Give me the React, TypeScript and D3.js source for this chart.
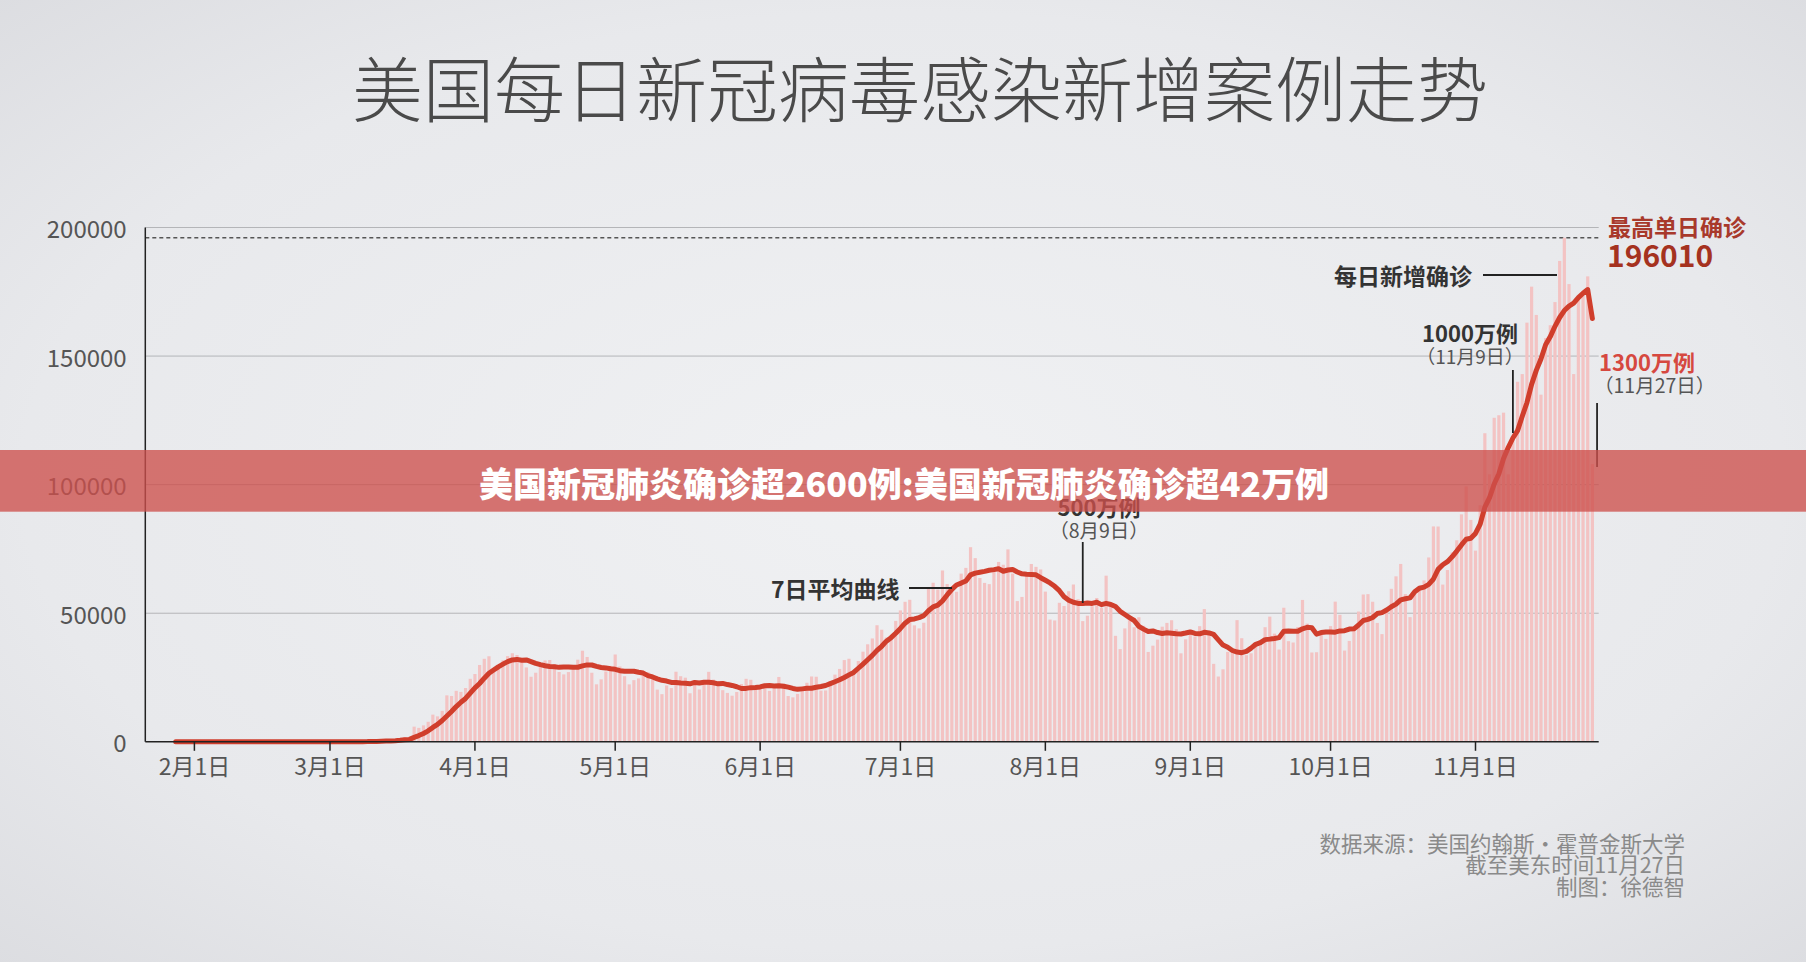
import React, { useRef, useEffect } from 'react';
import * as d3 from 'd3';

// daily new confirmed cases (US), starting 2020-01-22
const startDate = '2020-01-22';
const janCases = [1, 0, 1, 0, 3, 0, 0, 0, 0, 2];
const febCases = [1, 0, 3, 0, 0, 0, 0, 0, 0, 0, 1, 0, 1, 0, 0, 0, 0, 0, 0, 0, 2, 0, 0, 36, 0, 6, 1, 2, 8];
const marCases = [6, 23, 20, 31, 68, 45, 140, 116, 65, 376, 322, 382, 516, 548, 772, 1133, 1789, 1362, 5894, 5423, 6389, 7787, 10571, 9893, 12038, 18058, 17821, 19821, 19408, 20921, 24501];
const aprCases = [26365, 29874, 32284, 33267, 28219, 29595, 31709, 33331, 34437, 33752, 31004, 28917, 25306, 26857, 29664, 31627, 31811, 30211, 27148, 26217, 27113, 28576, 31924, 35419, 32986, 26859, 22350, 24289, 27327, 29515];
const mayCases = [33955, 29288, 25501, 22335, 23976, 24645, 27368, 27101, 25558, 20299, 18527, 21919, 20895, 27246, 25508, 24942, 18880, 22181, 20348, 22950, 27208, 24192, 22049, 20078, 19009, 17921, 19394, 22452, 24493, 24116, 20373];
const junCases = [20697, 21109, 19795, 21477, 25213, 22597, 17811, 17283, 18626, 21043, 22965, 25407, 25304, 19904, 19983, 23667, 26124, 28337, 31778, 32294, 26593, 31426, 35042, 37917, 40187, 45329, 43582, 40540, 40864, 47010];
const julCases = [51097, 54442, 55220, 45285, 44105, 46304, 60209, 61848, 59216, 66627, 61352, 59273, 58345, 65404, 67632, 75687, 71434, 63699, 61796, 61313, 67140, 69943, 68848, 74818, 65424, 54733, 56336, 65935, 69150, 68027, 67023];
const augCases = [58407, 47540, 47189, 54056, 52810, 58563, 61168, 55470, 46935, 49038, 52710, 55910, 52156, 64601, 52481, 41213, 36055, 44091, 47252, 44551, 48440, 45105, 34938, 37376, 39733, 44768, 46242, 47272, 43758, 34410, 39860];
const sepCases = [42638, 40929, 44963, 51615, 41815, 30311, 25385, 28199, 34969, 36231, 47311, 40276, 33684, 34416, 38554, 39360, 44566, 48674, 42069, 35880, 52135, 39129, 38616, 44636, 55162, 45980, 34732, 34831, 43417, 40022];
const octCases = [44988, 54507, 49378, 35478, 39227, 43807, 50658, 57286, 57420, 54462, 46220, 41885, 50909, 59494, 64348, 69156, 57444, 48485, 58387, 60615, 62735, 71687, 83757, 83718, 61140, 66798, 73632, 78358, 88452, 99321, 86293];
const novCases = [74341, 92000, 120000, 104000, 126000, 127000, 128000, 104000, 118000, 140000, 143000, 163000, 177000, 166000, 135000, 157000, 162000, 171000, 187000, 196010, 178000, 143000, 172000, 174000, 181000, 108000];

const dailyCases = [
  ...janCases, ...febCases, ...marCases, ...aprCases, ...mayCases, ...junCases,
  ...julCases, ...augCases, ...sepCases, ...octCases, ...novCases,
];

const monthTicks = ['2020-02-01', '2020-03-01', '2020-04-01', '2020-05-01', '2020-06-01', '2020-07-01', '2020-08-01', '2020-09-01', '2020-10-01', '2020-11-01'];
const monthLabels = ['2月1日', '3月1日', '4月1日', '5月1日', '6月1日', '7月1日', '8月1日', '9月1日', '10月1日', '11月1日'];
const yTicks = [0, 50000, 100000, 150000, 200000];
const peakValue = 196010;

const titleText = '美国每日新冠病毒感染新增案例走势';
const bannerText = '美国新冠肺炎确诊超2600例:美国新冠肺炎确诊超42万例';
const sourceLines = ['数据来源：美国约翰斯·霍普金斯大学', '截至美东时间11月27日', '制图：徐德智'];

const App: React.FC = () => {
  const svgRef = useRef<SVGSVGElement>(null);

  useEffect(() => {
    if (!svgRef.current) return;
    const svg = d3.select(svgRef.current);
    svg.selectAll('*').remove();

    const width = 1806;
    const height = 962;
    const font = '"Noto Sans CJK SC", "Noto Sans", sans-serif';
    const left = 145.3;
    const right = 1598.7;

    const parse = d3.utcParse('%Y-%m-%d');
    const start = parse(startDate) as Date;
    const dayOf = (i: number) => d3.utcDay.offset(start, i);

    const x = d3.scaleUtc()
      .domain([parse('2020-02-01') as Date, parse('2020-11-01') as Date])
      .range([194.4, 1475.5]);
    const y = d3.scaleLinear().domain([0, 200000]).range([741.8, 227.5]);

    // background
    const defs = svg.append('defs');
    const bg = defs.append('radialGradient').attr('id', 'bg').attr('cx', '50%').attr('cy', '50%').attr('r', '75%');
    bg.append('stop').attr('offset', '0%').attr('stop-color', '#f0f1f3');
    bg.append('stop').attr('offset', '65%').attr('stop-color', '#e8e9ec');
    bg.append('stop').attr('offset', '100%').attr('stop-color', '#dadbdf');
    svg.append('rect').attr('width', width).attr('height', height).attr('fill', 'url(#bg)');

    // title
    svg.append('text')
      .attr('x', 920).attr('y', 85)
      .attr('text-anchor', 'middle').attr('dominant-baseline', 'central')
      .attr('font-family', font).attr('font-size', 71).attr('font-weight', 300)
      .attr('fill', '#4a4a4a')
      .text(titleText);

    // grid
    svg.append('g').selectAll('line')
      .data(yTicks.filter(t => t > 0))
      .enter().append('line')
      .attr('x1', left).attr('x2', right)
      .attr('y1', d => y(d)).attr('y2', d => y(d))
      .attr('stroke', '#b4b5b8').attr('stroke-width', 1);

    svg.append('g').selectAll('text')
      .data(yTicks)
      .enter().append('text')
      .attr('x', 126.7).attr('y', d => y(d))
      .attr('text-anchor', 'end').attr('dominant-baseline', 'central')
      .attr('font-family', font).attr('font-size', 24)
      .attr('fill', '#555')
      .text(d => String(d));

    // peak dashed line
    svg.append('line')
      .attr('x1', left).attr('x2', right)
      .attr('y1', y(peakValue)).attr('y2', y(peakValue))
      .attr('stroke', '#555').attr('stroke-width', 1.5)
      .attr('stroke-dasharray', '4 3');

    // bars
    const barW = 3.2;
    svg.append('g').selectAll('rect')
      .data(dailyCases)
      .enter().append('rect')
      .attr('x', (_, i) => x(dayOf(i)) - barW / 2)
      .attr('y', d => y(d))
      .attr('width', barW)
      .attr('height', d => y(0) - y(d))
      .attr('fill', '#f3c3c3');

    // 7-day average
    const avg = dailyCases
      .map((_, i) => (i < 6 ? null : { date: dayOf(i), value: d3.mean(dailyCases.slice(i - 6, i + 1)) as number }))
      .filter(d => d !== null) as { date: Date; value: number }[];

    const line = d3.line<{ date: Date; value: number }>()
      .x(d => x(d.date))
      .y(d => y(d.value));

    svg.append('path')
      .datum(avg)
      .attr('d', line)
      .attr('fill', 'none')
      .attr('stroke', '#d03e2c')
      .attr('stroke-width', 5)
      .attr('stroke-linejoin', 'round')
      .attr('stroke-linecap', 'round');

    // axes
    svg.append('line').attr('x1', left).attr('x2', left).attr('y1', y(200000)).attr('y2', y(0))
      .attr('stroke', '#222').attr('stroke-width', 1.5);
    svg.append('line').attr('x1', left).attr('x2', right).attr('y1', y(0)).attr('y2', y(0))
      .attr('stroke', '#222').attr('stroke-width', 1.5);

    const xt = svg.append('g').selectAll('g')
      .data(monthTicks)
      .enter().append('g')
      .attr('transform', d => `translate(${x(parse(d) as Date)},${y(0)})`);
    xt.append('line').attr('y1', 0).attr('y2', 9).attr('stroke', '#222').attr('stroke-width', 1.5);
    xt.append('text')
      .attr('y', 23).attr('text-anchor', 'middle').attr('dominant-baseline', 'central')
      .attr('font-family', font).attr('font-size', 23).attr('fill', '#555')
      .text((_, i) => monthLabels[i]);

    // annotations
    const label = (tx: number, ty: number, txt: string, size: number, weight: number, fill: string, anchor = 'start') =>
      svg.append('text')
        .attr('x', tx).attr('y', ty)
        .attr('text-anchor', anchor).attr('dominant-baseline', 'central')
        .attr('font-family', font).attr('font-size', size).attr('font-weight', weight)
        .attr('fill', fill)
        .text(txt);
    const rule = (x1: number, y1: number, x2: number, y2: number) =>
      svg.append('line').attr('x1', x1).attr('y1', y1).attr('x2', x2).attr('y2', y2)
        .attr('stroke', '#222').attr('stroke-width', 1.8);

    label(1608, 226, '最高单日确诊', 23, 700, '#a8392b');
    label(1607, 254, String(peakValue), 30, 700, '#a5321f');

    label(1472, 275, '每日新增确诊', 23, 700, '#333', 'end');
    rule(1483, 275, 1557, 275);

    label(1470, 332, '1000万例', 22, 700, '#333', 'middle');
    label(1470, 355, '（11月9日）', 19, 400, '#555', 'middle');
    rule(x(parse('2020-11-09') as Date), 370, x(parse('2020-11-09') as Date), 433);

    label(1599, 361, '1300万例', 22, 700, '#d6483f');
    label(1594, 384, '（11月27日）', 19.5, 400, '#555');
    rule(x(parse('2020-11-27') as Date), 403, x(parse('2020-11-27') as Date), 467);

    label(1099, 506, '500万例', 22, 700, '#333', 'middle');
    label(1099, 529, '（8月9日）', 19.5, 400, '#555', 'middle');
    rule(x(parse('2020-08-09') as Date), 542, x(parse('2020-08-09') as Date), 603);

    label(771, 588, '7日平均曲线', 23, 700, '#333');
    rule(909, 588, 952, 588);

    // source
    svg.append('g').selectAll('text')
      .data(sourceLines)
      .enter().append('text')
      .attr('x', 1685).attr('y', (_, i) => 842 + i * 21.7)
      .attr('text-anchor', 'end').attr('dominant-baseline', 'central')
      .attr('font-family', font).attr('font-size', 21.5).attr('fill', '#8a8a8a')
      .text(d => d);

    // overlay banner
    svg.append('rect')
      .attr('x', 0).attr('y', 450).attr('width', width).attr('height', 61.7)
      .attr('fill', 'rgb(205,80,75)').attr('opacity', 0.78);
    svg.append('text')
      .attr('x', 904).attr('y', 482)
      .attr('text-anchor', 'middle').attr('dominant-baseline', 'central')
      .attr('font-family', font).attr('font-size', 34).attr('font-weight', 900)
      .attr('fill', '#fff')
      .text(bannerText);
  }, []);

  return <svg ref={svgRef} width={1806} height={962} style={{ position: 'absolute', left: 0, top: 0 }}></svg>;
};

export default App;
